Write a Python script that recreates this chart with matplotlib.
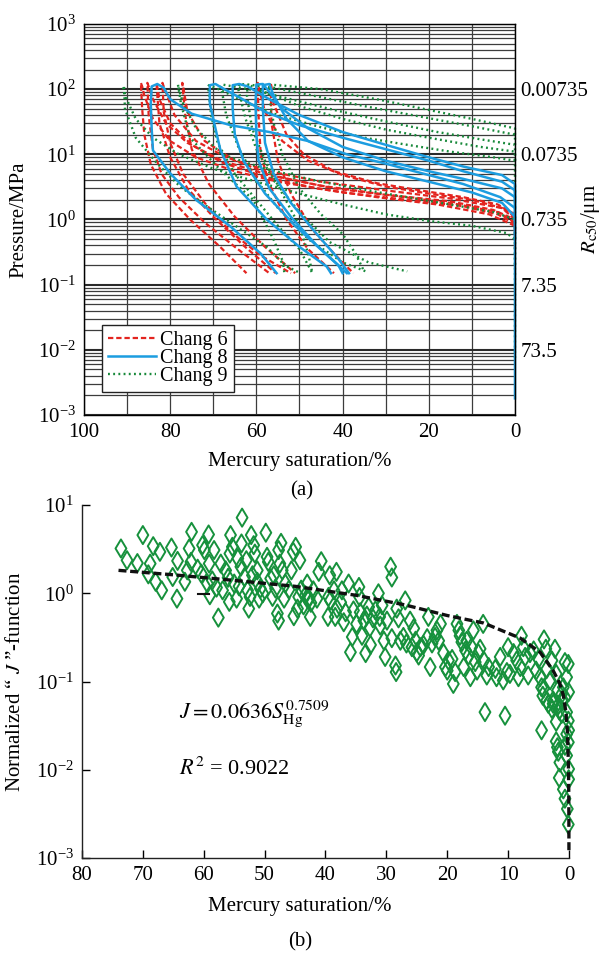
import matplotlib
matplotlib.use("Agg")
import matplotlib.pyplot as plt
from matplotlib.ticker import LogLocator, NullLocator, FixedLocator, NullFormatter

plt.rcParams['font.family'] = ['Liberation Serif', 'DejaVu Serif']
plt.rcParams['mathtext.fontset'] = 'stix'
FS = 15

# ---- panel (a): capillary pressure curves (mercury saturation %, pressure MPa)
chang6_s = [
    [0, 0, 4, 12, 25, 40, 55, 65, 74, 80, 84, 86, 86.5, 86.8, 86.5, 86, 84.5, 81, 75.4, 68.4, 62.3],
    [0, 0, 5, 15, 30, 45, 58, 68, 76, 81, 84, 85, 85.3, 85, 84, 82, 78, 72, 65, 57],
    [0, 0, 6, 18, 32, 46, 58, 68, 75, 80, 82.5, 83, 83.2, 82.5, 80, 76, 70, 63, 55.5],
    [0, 3, 15, 30, 45, 57, 67, 74, 79, 81.5, 81.8, 81.5, 80, 77, 72, 66, 59, 52],
    [0, 4, 15, 28, 42, 55, 65, 72, 76, 77, 77.2, 76.5, 75, 71, 65, 58, 51],
    [0, 3, 10, 20, 30, 40, 48, 54, 58, 59.5, 59.7, 59.5, 59, 57, 53, 48, 42],
    [0, 4, 12, 22, 32, 42, 49, 53, 56, 56.5, 56.7, 56.5, 55, 52, 47, 42, 37.5],
]
chang6_p = [
    [0.35, 0.85, 1.2, 1.6, 2.0, 2.6, 3.8, 5.5, 9, 16, 35, 80, 110, 125, 50, 20, 7, 2.5, 1.0, 0.38, 0.15],
    [0.5, 1.0, 1.4, 1.9, 2.4, 3.3, 5, 8, 15, 30, 70, 110, 125, 40, 12, 5, 2.2, 0.9, 0.38, 0.15],
    [0.6, 0.8, 1.2, 1.7, 2.2, 3.0, 4.5, 7.5, 14, 30, 70, 110, 125, 30, 9, 3, 1.1, 0.4, 0.15],
    [1.1, 1.5, 2.1, 2.8, 3.8, 5.5, 9, 16, 40, 110, 125, 45, 15, 5, 1.8, 0.65, 0.28, 0.15],
    [0.9, 1.3, 1.8, 2.3, 3.0, 4.5, 8, 16, 45, 110, 125, 40, 12, 3.5, 1.1, 0.38, 0.15],
    [1.0, 1.5, 2.0, 2.5, 3.2, 4.8, 8, 16, 45, 110, 125, 40, 10, 3.5, 1.0, 0.35, 0.15],
    [1.2, 1.7, 2.2, 2.8, 3.6, 5.5, 10, 20, 60, 110, 125, 30, 8, 2.5, 0.7, 0.3, 0.15],
]
chang8_s = [
    [0, 0, 3.4, 12, 21, 30, 39, 48, 57, 66, 75, 80, 81.5, 83, 84.3, 84.5, 84.3, 84, 80, 74, 66, 59, 55.3],
    [0, 0, 3, 12, 20, 30, 40, 50, 58, 64, 68, 69.5, 70.8, 70.8, 69.5, 68.4, 64.6, 57.6, 50, 43.7, 42.7],
    [0, 0, 3, 12, 20, 30, 40, 50, 57, 62, 64, 65.5, 65.5, 65, 63, 58, 51, 44, 39],
    [0, 0, 3, 12, 20, 30, 40, 48, 54, 57.5, 58.5, 60, 60.2, 60, 59.5, 57, 52, 46, 41, 40],
    [0, 0, 3, 10, 20, 30, 40, 48, 53, 56, 57, 58.5, 58.5, 58, 56, 52, 46, 41, 38.5],
]
chang8_p = [
    [0.0018, 1.5, 2.2, 3.5, 5, 7.2, 10, 16, 22, 28, 42, 70, 105, 120, 110, 60, 25, 11.5, 5.1, 2.0, 0.78, 0.30, 0.15],
    [1.5, 2.8, 3.8, 5.5, 8, 12, 18, 28, 45, 75, 105, 120, 115, 60, 25, 12, 3.2, 1.0, 0.38, 0.19, 0.15],
    [2.0, 3.5, 4.8, 6.5, 9, 14, 22, 40, 70, 110, 120, 115, 50, 20, 8, 2.5, 0.8, 0.3, 0.15],
    [1.0, 2.2, 3, 4.2, 5.5, 8, 13, 25, 50, 100, 120, 118, 60, 20, 8, 3, 1.1, 0.4, 0.2, 0.15],
    [0.5, 1.1, 1.8, 2.6, 3.8, 5.5, 9, 16, 35, 80, 120, 115, 50, 15, 5, 1.8, 0.6, 0.25, 0.15],
]
chang9_s = [
    [0, 0, 2, 10, 20, 30, 40, 50, 60, 70, 78, 84, 88, 90.5, 91, 90.7, 90.5, 88, 83, 77.7, 71.5, 64.6, 57.6, 53.8, 53.5],
    [0, 0, 5, 15, 30, 45, 58, 68, 74, 77, 78, 78.2, 77.5, 75.4, 68.4, 60.7, 56, 53.5, 49.8],
    [0, 0, 5, 15, 25, 35, 45, 55, 63, 68, 71, 71.2, 70.5, 69, 65, 60, 55, 50, 47],
    [0, 0, 8, 18, 30, 42, 52, 60, 66, 68, 68.2, 67, 64, 60, 55, 48, 40, 34.6],
    [0, 0, 10, 22, 35, 47, 56, 62, 64, 64.2, 62.5, 60, 56, 50, 43, 34, 25],
    [0, 0, 10, 20, 32, 45, 57, 57.2, 56, 54, 50, 45, 40, 37, 35],
    [0, 0, 8, 20, 30, 40, 50, 58, 62, 62.2, 61, 58, 54, 50, 48, 47],
]
chang9_p = [
    [0.0075, 0.5, 0.62, 0.8, 0.95, 1.2, 1.7, 2.5, 3.8, 6, 10, 18, 35, 80, 112, 110, 50, 18, 7.2, 3.2, 1.6, 0.78, 0.38, 0.21, 0.15],
    [0.2, 1.0, 1.3, 1.7, 2.5, 3.8, 6, 10, 25, 60, 100, 118, 60, 18, 5.8, 2.0, 0.49, 0.2, 0.15],
    [0.5, 8, 9, 11, 14, 18, 26, 40, 65, 95, 115, 110, 40, 15, 5, 2, 0.8, 0.35, 0.15],
    [8, 14, 17, 22, 32, 48, 70, 95, 112, 118, 110, 40, 12, 4, 1.5, 0.5, 0.22, 0.16],
    [14, 20, 27, 38, 55, 80, 105, 118, 120, 100, 35, 12, 4, 1.3, 0.45, 0.22, 0.16],
    [20, 25, 35, 48, 70, 100, 118, 90, 30, 10, 3, 1.2, 0.6, 0.3, 0.16],
    [8, 11, 13, 18, 24, 35, 55, 90, 118, 80, 25, 8, 2.5, 0.8, 0.3, 0.15],
]
rc50_ticks = [1e2, 1e1, 1e0, 1e-1, 1e-2]
rc50_labels = ['0.00735', '0.0735', '0.735', '7.35', '73.5']

# ---- panel (b): normalized J-function
j_s = [73.6, 72.6, 70.0, 70.9, 68.3, 67.2, 68.8, 69.1, 67.9, 66.9, 65.3, 64.4, 64.3, 65.1, 63.1,
       62.4, 62.0, 62.1, 62.7, 60.2, 59.9, 59.2, 58.3, 59.1, 60.4, 59.4, 57.9, 59.0, 57.6, 57.2,
       56.9, 56.4, 55.8, 55.6, 55.3, 55.7, 55.0, 54.6, 54.4, 53.8, 53.7, 53.9, 53.3, 53.0, 52.8,
       52.6, 52.2, 51.8, 51.6, 52.4, 51.2, 50.9, 51.2, 50.7, 49.8, 49.6, 49.4, 49.0, 48.7, 47.9,
       48.2, 47.7, 47.3, 47.5, 47.1, 47.7, 46.8, 46.6, 45.6, 45.3, 44.9, 44.2, 45.2, 44.4, 44.6,
       43.6, 43.0, 42.7, 42.5, 42.0, 41.1, 40.7, 41.4, 39.6, 39.5, 39.3, 42.9, 43.3, 42.4, 44.0,
       50.3, 56.0, 61.0, 58.6, 46.0, 48.5, 54.2, 52.0,
       38.2, 38.6, 39.2, 38.1, 38.4, 37.5, 37.3, 37.0, 36.7, 36.2, 35.9, 35.6, 35.4, 34.9, 34.5,
       34.4, 34.3, 34.0, 33.7, 33.4, 33.2, 32.9, 32.7, 32.6, 32.2, 31.8, 31.3, 31.1, 31.0, 30.7,
       30.4, 30.2, 29.9, 29.3, 29.1, 29.1, 28.5, 28.4, 28.3, 28.0, 27.7, 27.2, 26.9, 26.7, 26.1,
       25.8, 25.5, 25.2, 25.0, 24.7, 24.4, 23.9, 23.3, 23.1, 22.8, 22.5, 22.0, 21.7, 21.4, 21.1,
       20.6, 20.3, 20.0, 19.8, 19.2, 19.0, 18.7, 18.4, 18.1, 17.9, 17.6, 17.3, 17.0, 16.8, 16.5,
       16.2, 16.0, 15.7, 15.4, 15.1, 14.9, 14.6, 14.1, 14.0, 13.8, 13.5, 13.2, 12.1, 11.9, 11.3,
       10.8, 10.5, 10.2, 10.0, 9.7, 9.1, 8.6, 8.3, 8.0, 7.8, 7.5, 7.2, 6.7, 6.4, 5.8,
       5.4, 5.0, 4.75, 4.5, 4.3, 4.1, 3.8, 3.65, 3.4, 3.1, 2.8, 2.6, 2.3, 2.1, 1.9,
       1.6, 1.2, 0.93, 0.66, 0.38, 0.11, 2.1, 4.5,
       4.2, 3.65, 2.6, 1.75, 2.8, 1.2, 0.38, 0.1, 2.1, 1.75, 1.5, 1.9, 0.66, 0.1, 0.38,
       0.05, 0.38, 0.05, 1.6, 0.05, 0.93, 0.66, 0.27, 0.11, 0.05, 0.66, 1.2]
j_val = [3.22, 2.37, 4.57, 2.2, 3.42, 2.95, 2.17, 1.64, 1.35, 1.08, 3.3, 0.87, 2.33, 1.53, 1.35,
         3.22, 4.97, 2.27, 1.82, 3.51, 3.09, 4.64, 3.09, 2.17, 1.67, 1.29, 1.16, 0.95, 0.53, 2.17,
         1.08, 1.82, 0.80, 4.57, 3.36, 2.82, 1.29, 0.87, 2.48, 3.67, 7.2, 2.0, 1.53, 2.37, 1.08,
         0.67, 4.57, 3.51, 2.82, 0.91, 1.82, 0.87, 1.35, 1.13, 4.86, 2.59, 2.27, 1.47, 0.91, 0.59,
         1.13, 3.09, 3.73, 2.17, 1.82, 0.49, 0.87, 1.29, 1.82, 2.95, 3.36, 2.37, 0.55, 0.91, 0.67,
         0.73, 1.29, 0.87, 0.54, 1.08, 1.75, 2.31, 0.87, 0.54, 0.91, 1.6, 0.85, 0.95, 0.78, 1.1,
         1.0, 1.5, 1.9, 1.4, 1.1, 1.6, 1.2, 1.6,
         1.75, 1.08, 0.83, 0.67, 0.54, 0.79, 1.08, 0.47, 0.61, 1.29, 0.215, 0.32, 0.64, 0.45, 1.18,
         0.91, 0.61, 0.33, 0.49, 0.21, 0.56, 0.70, 0.41, 0.26, 0.52, 0.64, 1.0, 0.54, 0.43, 0.73,
         0.29, 0.19, 0.49, 2.0, 1.51, 0.31, 0.152, 0.128, 0.67, 0.52, 0.29, 0.32, 0.83, 0.27, 0.49,
         0.245, 0.40, 0.29, 0.215, 0.197, 0.245, 0.26, 0.31, 0.54, 0.146, 0.27, 0.32, 0.38, 0.29, 0.45,
         0.21, 0.146, 0.133, 0.173, 0.18, 0.094, 0.128, 0.45, 0.38, 0.33, 0.28, 0.146, 0.225, 0.29, 0.197,
         0.112, 0.245, 0.38, 0.166, 0.133, 0.21, 0.235, 0.45, 0.173, 0.045, 0.117, 0.146, 0.139, 0.112, 0.19,
         0.103, 0.041, 0.128, 0.245, 0.122, 0.21, 0.173, 0.112, 0.146, 0.33, 0.245, 0.19, 0.117, 0.21, 0.225,
         0.133, 0.18, 0.112, 0.086, 0.069, 0.30, 0.235, 0.139, 0.056, 0.103, 0.173, 0.061, 0.235, 0.122, 0.079,
         0.047, 0.061, 0.086, 0.166, 0.112, 0.158, 0.035, 0.028,
         0.083, 0.061, 0.056, 0.054, 0.049, 0.043, 0.045, 0.036, 0.021, 0.016, 0.0121, 0.018, 0.0187, 0.0205, 0.0254,
         0.028, 0.0145, 0.0102, 0.0081, 0.0078, 0.006, 0.0047, 0.0036, 0.0024, 0.076, 0.066, 0.072]
fit_s = [74, 65, 55, 45, 35, 27, 20, 14, 8, 4.75, 2.6, 1.5, 0.93, 0.5, 0.25, 0.1, 0.04, 0.015, 0.006]
fit_j = [1.82, 1.62, 1.40, 1.2, 0.95, 0.74, 0.56, 0.46, 0.31, 0.215, 0.133, 0.095, 0.07, 0.045, 0.027,
         0.012, 0.006, 0.0028, 0.0012]
dash_s = [61, 59.2]
dash_j = [0.98, 0.98]

red, blue, green = '#e3241f', '#1c9de0', '#17893a'

fig = plt.figure(figsize=(6.06, 9.56), dpi=100)

# ---------------- (a)
ax = fig.add_axes([0.1386, 0.5659, 0.7112, 0.409])
ax.set_yscale('log')
ax.set_xlim(100, 0)
ax.set_ylim(1e-3, 1e3)
ax.set_xticks([100, 80, 60, 40, 20, 0])
ax.xaxis.set_minor_locator(FixedLocator([90, 70, 50, 30, 10]))
ax.yaxis.set_major_locator(LogLocator(base=10, numticks=10))
ax.yaxis.set_minor_locator(LogLocator(base=10, subs=range(2, 10), numticks=20))
ax.yaxis.set_minor_formatter(NullFormatter())
ax.set_axisbelow(True)
ax.grid(True, which='both', color='#3c3c3c', lw=0.9)
ax.grid(True, which='major', axis='y', color='#2a2a2a', lw=1.5)
ax.tick_params(which='both', direction='in', length=0, labelsize=FS, pad=6)
for sp in ax.spines.values():
    sp.set_linewidth(1.0)
    sp.set_color('#222222')

lines6 = []
for s, p in zip(chang6_s, chang6_p):
    lines6 += ax.plot(s, p, color=red, lw=1.6, ls=(0, (2.4, 1.3)), clip_on=False)
lines9 = []
for s, p in zip(chang9_s, chang9_p):
    lines9 += ax.plot(s, p, color=green, lw=1.7, ls=(0, (0.8, 1.4)), clip_on=False)
lines8 = []
for s, p in zip(chang8_s, chang8_p):
    lines8 += ax.plot(s, p, color=blue, lw=1.8, clip_on=False)

leg = ax.legend([lines6[0], lines8[0], lines9[0]], ['Chang 6', 'Chang 8', 'Chang 9'],
                loc='lower left', bbox_to_anchor=(0.042, 0.058), borderaxespad=0,
                fontsize=14.5, fancybox=False, framealpha=1, edgecolor='#222222',
                handlelength=2.4, handletextpad=0.2, labelspacing=-0.05, borderpad=0.3)
leg.get_frame().set_linewidth(1.0)

ax.set_ylabel('Pressure/MPa', fontsize=FS)
ax.yaxis.set_label_coords(-0.128, 0.5)

ax2 = ax.twinx()
ax2.set_yscale('log')
ax2.set_ylim(1e-3, 1e3)
ax2.yaxis.set_major_locator(FixedLocator(rc50_ticks))
ax2.yaxis.set_minor_locator(NullLocator())
ax2.set_yticklabels(rc50_labels)
ax2.tick_params(length=0, labelsize=FS, pad=4)

fig.text(591 / 606, 1 - 219 / 956, r'$R_{\mathrm{c50}}$/μm', rotation=90,
         ha='center', va='center', fontsize=FS)
fig.text(300 / 606, 1 - 462 / 956, 'Mercury saturation/%', ha='center', va='center', fontsize=FS)
fig.text(302 / 606, 1 - 491 / 956, '(a)', ha='center', va='center', fontsize=FS)

# ---------------- (b)
axb = fig.add_axes([0.1353, 0.1025, 0.8036, 0.3692])
axb.set_yscale('log')
axb.set_xlim(80, 0)
axb.set_ylim(1e-3, 1e1)
axb.set_xticks(range(80, -1, -10))
axb.yaxis.set_major_locator(LogLocator(base=10, numticks=10))
axb.yaxis.set_minor_locator(NullLocator())
axb.tick_params(direction='in', length=6, width=1.0, labelsize=FS, pad=6)
axb.spines['top'].set_visible(False)
axb.spines['right'].set_visible(False)
for sp in ['left', 'bottom']:
    axb.spines[sp].set_linewidth(1.0)
    axb.spines[sp].set_color('#222222')

axb.scatter(j_s, j_val, marker='d', s=85, facecolors='none', edgecolors='#16913c',
            linewidths=1.4, clip_on=False, zorder=3)
axb.plot(fit_s, fit_j, color='#111111', lw=2.4, ls=(0, (2.4, 1.1)), zorder=4, clip_on=False)
axb.plot(dash_s, dash_j, color='#111111', lw=1.5, zorder=4)

axb.text(64, 0.043, r'$J = 0.0636S_{\mathrm{Hg}}^{0.7509}$', fontsize=FS + 1, ha='left', va='center')
axb.text(64, 0.0102, r'$R^2$ = 0.9022', fontsize=FS + 1, ha='left', va='center')

axb.set_ylabel('Normalized “ $J$ ”-function', fontsize=FS)
axb.yaxis.set_label_coords(-0.118, 0.5)
fig.text(300 / 606, 1 - 907 / 956, 'Mercury saturation/%', ha='center', va='center', fontsize=FS)
fig.text(300 / 606, 1 - 942 / 956, '(b)', ha='center', va='center', fontsize=FS)

fig.savefig('out.png', dpi=100)
